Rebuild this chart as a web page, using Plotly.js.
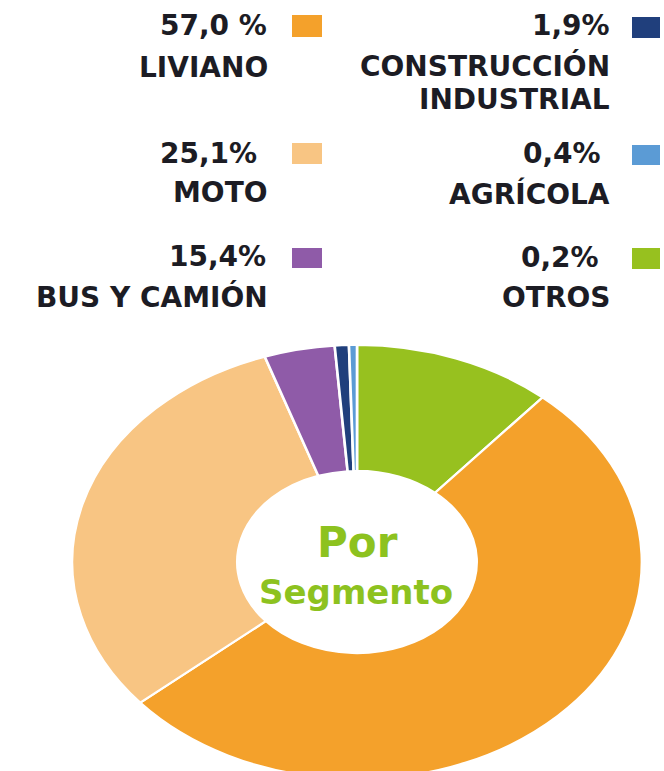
<!DOCTYPE html>
<html>
<head>
<meta charset="utf-8">
<script src="https://cdn.plot.ly/plotly-3.0.1.min.js"></script>
<style>
html, body { margin:0; padding:0; overflow:hidden; background:#fff; }
#chart { width:664px; height:800px; }
</style>
</head>
<body>
<div id="chart"></div>
<script>
// ---- data ----
const categories = ["OTROS", "LIVIANO", "MOTO", "BUS Y CAMIÓN", "CONSTRUCCIÓN INDUSTRIAL", "AGRÍCOLA"];
// slice shares as drawn in the picture
const sliceShare = [11.3, 52.5, 31.0, 4.0, 0.8, 0.45];
// percentage labels printed in the legend
const pctLabels = ["0,2%", "57,0 %", "25,1%", "15,4%", "1,9%", "0,4%"];
const colors = ["#97c11f", "#f4a12b", "#f8c583", "#8f5ba8", "#203f7c", "#5b9bd5"];

// ---- geometry helpers ----
const W = 664, H = 800;
const px = x => x / W;
const py = y => 1 - y / H;
const cx = 357, cy = 562, r = 217, stretch = 1.313;

const data = [{
  type: "pie",
  labels: categories,
  values: sliceShare,
  marker: { colors: colors, line: { color: "#ffffff", width: 2 } },
  hole: 0.42,
  sort: false,
  direction: "clockwise",
  rotation: 0,
  textinfo: "none",
  hoverinfo: "none",
  showlegend: false,
  domain: { x: [px(cx - r), px(cx + r)], y: [py(cy + r), py(cy - r)] }
}];

const font = { family: "DejaVu Sans, Arial, sans-serif", size: 28, color: "#1c1c24", weight: 700 };
const annotations = [];
const shapes = [];
function txt(text, xr, yc, f) {
  annotations.push({ text: text, x: px(xr), y: py(yc), xref: "paper", yref: "paper",
    xanchor: "right", yanchor: "middle", showarrow: false, font: f || font });
}
function sq(i, x0, y0, x1, y1) {
  shapes.push({ type: "rect", xref: "paper", yref: "paper", x0: px(x0), x1: px(x1),
    y0: py(y1), y1: py(y0), fillcolor: colors[i], line: { width: 0 } });
}
// column 1
txt(pctLabels[1], 269, 25);  txt(categories[1], 270, 68);  sq(1, 292, 15, 322, 37);
txt(pctLabels[2], 259, 153); txt(categories[2], 270, 193); sq(2, 292, 143, 322, 164);
txt(pctLabels[3], 268, 256); txt(categories[3], 270, 297); sq(3, 292, 248, 322, 268);
// column 2
txt(pctLabels[4], 612, 25);  txt("CONSTRUCCIÓN", 612, 66); txt("INDUSTRIAL", 612, 99); sq(4, 632, 17, 660, 38);
txt(pctLabels[5], 603, 153); txt(categories[5], 612, 194); sq(5, 632, 145, 660, 165);
txt(pctLabels[0], 601, 257); txt(categories[0], 612, 297); sq(0, 632, 248, 660, 269);

// centre text
const green = "#8dc21f";
annotations.push({ text: "Por", x: px(357), y: py(542), xref: "paper", yref: "paper",
  xanchor: "center", yanchor: "middle", showarrow: false,
  font: { family: "DejaVu Sans, Arial, sans-serif", size: 42, color: green, weight: 700 } });
annotations.push({ text: "Segmento", x: px(356), y: py(592), xref: "paper", yref: "paper",
  xanchor: "center", yanchor: "middle", showarrow: false,
  font: { family: "DejaVu Sans, Arial, sans-serif", size: 34, color: green, weight: 700 } });

const layout = {
  width: W, height: H,
  margin: { l: 0, r: 0, t: 0, b: 0 },
  paper_bgcolor: "#ffffff",
  plot_bgcolor: "#ffffff",
  annotations: annotations,
  shapes: shapes
};

Plotly.newPlot("chart", data, layout, { staticPlot: true, displayModeBar: false }).then(gd => {
  const g = gd.querySelector(".pielayer");
  if (g) g.setAttribute("transform", `translate(${cx},0) scale(${stretch},1) translate(${-cx},0)`);
});
</script>
</body>
</html>
